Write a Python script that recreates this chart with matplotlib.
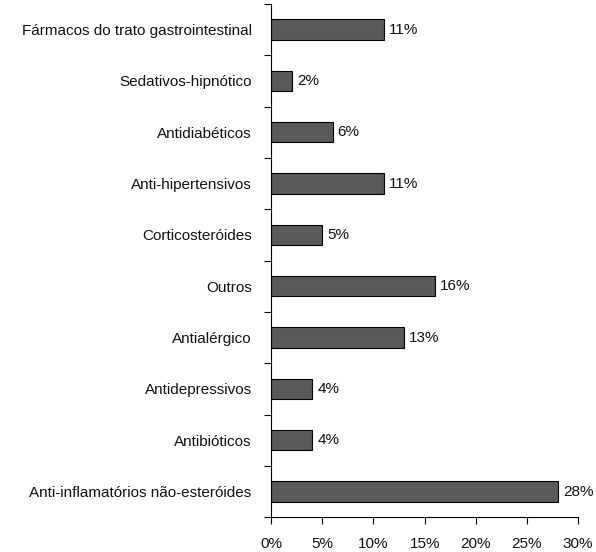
import numpy as np
import matplotlib.pyplot as plt
from matplotlib.ticker import FixedLocator, PercentFormatter

# Categories, top to bottom
categorias = ["Fármacos do trato gastrointestinal", "Sedativos-hipnótico", "Antidiabéticos",
              "Anti-hipertensivos", "Corticosteróides", "Outros", "Antialérgico",
              "Antidepressivos", "Antibióticos", "Anti-inflamatórios não-esteróides"]
percentagens = [11, 2, 6, 11, 5, 16, 13, 4, 4, 28]
xticks = [0, 5, 10, 15, 20, 25, 30]

plt.rcParams['font.family'] = ['Liberation Sans', 'DejaVu Sans']
plt.rcParams['font.size'] = 11

fig = plt.figure(figsize=(5.96, 5.52), dpi=100)
ax = fig.add_axes([0.455, 0.063, 0.515, 0.930])

y = np.arange(len(categorias))
ax.barh(y, percentagens, height=0.4, color="#595959", edgecolor="black", linewidth=0.8)

for yi, v in zip(y, percentagens):
    ax.text(v + 0.5, yi, f"{v}%", va="center", ha="left", color="#111111")

ax.set_ylim(len(categorias) - 0.5, -0.5)
ax.set_xlim(0, 30)
ax.set_yticks(y)
ax.set_yticklabels(categorias)
ax.yaxis.set_minor_locator(FixedLocator(np.arange(-0.5, len(categorias), 1)))
ax.tick_params(axis="y", which="major", length=0, pad=14)
ax.tick_params(axis="y", which="minor", length=5, width=0.8)
ax.set_xticks(xticks)
ax.xaxis.set_major_formatter(PercentFormatter(decimals=0))
ax.tick_params(axis="x", length=5, width=0.8, pad=9)
for t in ax.get_xticklabels() + ax.get_yticklabels():
    t.set_color("#111111")

ax.spines["top"].set_visible(False)
ax.spines["right"].set_visible(False)

fig.savefig("out.png", dpi=100)
